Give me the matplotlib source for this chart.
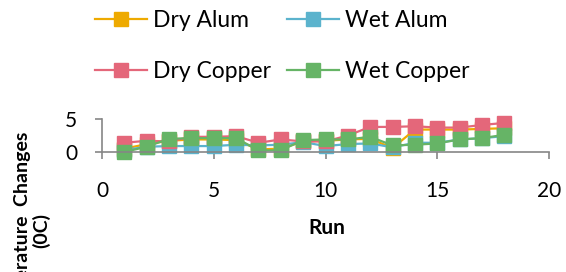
import numpy as np
import matplotlib
matplotlib.use("Agg")
import matplotlib.pyplot as plt

plt.rcParams['font.family'] = ['Lato', 'DejaVu Sans']

runs = list(range(1, 19))
dry_alum = [0.5, 1.2, 1.7, 1.9, 1.9, 1.8, 0.4, 0.5, 1.6, 1.7, 1.9, 2.0, 0.6, 3.4, 3.4, 3.4, 3.5, 3.6]
wet_alum = [0.3, 0.8, 0.9, 0.9, 0.9, 1.1, 1.0, 1.1, 1.5, 0.9, 1.2, 1.3, 0.7, 1.4, 1.4, 1.9, 2.1, 2.4]
dry_copper = [1.4, 1.7, 1.6, 2.3, 2.3, 2.4, 1.4, 1.9, 1.6, 1.6, 2.5, 3.8, 3.8, 3.9, 3.7, 3.7, 4.1, 4.4]
wet_copper = [0.0, 0.8, 2.0, 2.1, 2.1, 2.1, 0.25, 0.25, 1.8, 1.9, 1.9, 2.3, 1.0, 1.1, 1.3, 1.9, 2.1, 2.6]

series = [
    ("Dry Alum", dry_alum, "#EEAA00"),
    ("Wet Alum", wet_alum, "#5BB3CD"),
    ("Dry Copper", dry_copper, "#E4677A"),
    ("Wet Copper", wet_copper, "#66B466"),
]

W, H = 566, 272
fig = plt.figure(figsize=(W / 100, H / 100), dpi=100)
ax = fig.add_axes([102 / W, 1 - 152 / H, (549 - 102) / W, (152 - 119) / H])

lines = {}
for name, vals, col in series:
    ln, = ax.plot(runs, vals, color=col, lw=1.6, marker="s", markersize=10.5,
                  markeredgecolor=col, label=name, clip_on=False)
    lines[name] = ln

ax.set_xlim(0, 20)
ax.set_ylim(0, 5)
ax.set_xticks([0, 5, 10, 15, 20])
ax.set_yticks([0, 5])
for s in ["top", "right"]:
    ax.spines[s].set_visible(False)
for s in ["left", "bottom"]:
    ax.spines[s].set_color("#868686")
    ax.spines[s].set_linewidth(1.2)
ax.tick_params(axis="x", length=5, width=1.2, color="#868686", pad=16, labelsize=15)
ax.tick_params(axis="y", length=5, width=1.2, color="#868686", pad=13, labelsize=15)

fig.text(327 / W, 1 - 228 / H, "Run", ha="center", va="center",
         fontsize=15, fontweight="bold")
fig.text(32 / W, 1 - 230 / H, "Temperature  Changes\n(0C)", rotation=90,
         ha="center", va="center", multialignment="center",
         fontsize=14, fontweight="bold", linespacing=1.1)

# column-major fill -> rows: Dry Alum / Wet Alum, Dry Copper / Wet Copper
order = ["Dry Alum", "Dry Copper", "Wet Alum", "Wet Copper"]
fig.legend([lines[n] for n in order], order, loc="upper left",
           bbox_to_anchor=(95 / W, 1 - 10 / H), ncol=2,
           frameon=False, fontsize=16.5, borderpad=0, borderaxespad=0,
           handlelength=2.27, handletextpad=0.26, columnspacing=0.7,
           labelspacing=1.32)

fig.savefig("out.png", dpi=100)
